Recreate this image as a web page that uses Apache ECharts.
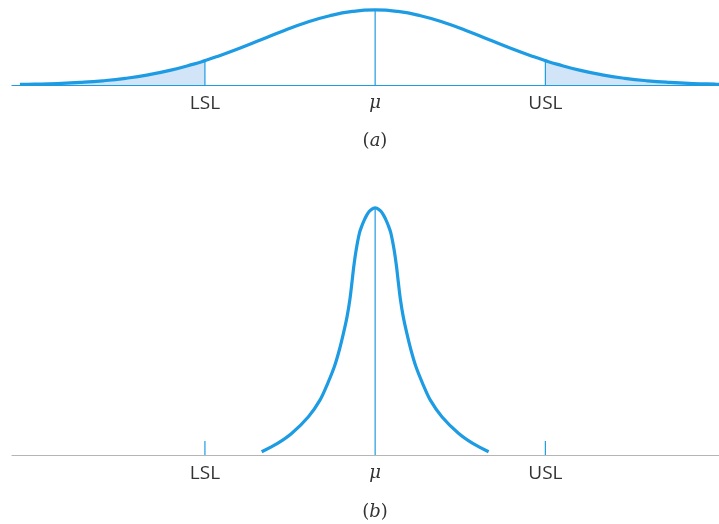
<!DOCTYPE html>
<html>
<head>
<meta charset="utf-8">
<style>html,body{margin:0;padding:0;background:#fff}#c{width:719px;height:524px}</style>
<script src="https://cdn.jsdelivr.net/npm/echarts@6/dist/echarts.min.js"></script>
</head>
<body>
<div id="c"></div>
<script>
// Spec limits and mean (in units of the top curve's sigma)
const tickPositions = [-1.5, 0, 1.5];
const tickLabels = ['LSL', 'μ', 'USL'];
const captions = ['a', 'b'];

// Panel (a): wide process distribution
const topX = [-3.13,-3.0,-2.8,-2.6,-2.4,-2.2,-2.0,-1.8,-1.6,-1.5,-1.4,-1.2,-1.0,-0.8,-0.6,-0.4,-0.2,0,
              0.2,0.4,0.6,0.8,1.0,1.2,1.4,1.5,1.6,1.8,2.0,2.2,2.4,2.6,2.8,3.0,3.03];
const topY = [0.003,0.0044,0.0079,0.0136,0.0224,0.0355,0.054,0.079,0.111,0.1295,0.1497,0.1942,0.242,0.2897,0.3332,0.3683,0.391,0.3989,
              0.391,0.3683,0.3332,0.2897,0.242,0.1942,0.1497,0.1295,0.111,0.079,0.054,0.0355,0.0224,0.0136,0.0079,0.0044,0.004];

// Panel (b): narrow process distribution (relative height)
const botX = [-1.0,-0.86,-0.734,-0.588,-0.485,-0.417,-0.359,-0.315,-0.279,-0.247,-0.223,-0.205,-0.188,-0.167,-0.138,-0.115,-0.094,-0.075,-0.06,-0.045,-0.029,-0.015,0,
              0.015,0.029,0.045,0.06,0.075,0.094,0.115,0.138,0.167,0.188,0.205,0.223,0.247,0.279,0.315,0.359,0.417,0.485,0.588,0.734,0.86,1.0];
const botY = [0.013,0.047,0.088,0.155,0.223,0.291,0.358,0.426,0.493,0.561,0.628,0.696,0.764,0.831,0.899,0.93,0.953,0.970,0.981,0.989,0.995,0.999,1,
              0.999,0.995,0.989,0.981,0.970,0.953,0.93,0.899,0.831,0.764,0.696,0.628,0.561,0.493,0.426,0.358,0.291,0.223,0.155,0.088,0.047,0.013];

const BLUE = '#1d9be3';
const FILL = '#d2e5f8';
const TXT = '#333333';

const topData = topX.map((x, i) => [x, topY[i]]);
const botData = botX.map((x, i) => [x, botY[i]]);
const leftTail = topData.filter(d => d[0] <= tickPositions[0] + 1e-9);
const rightTail = topData.filter(d => d[0] >= tickPositions[2] - 1e-9);
const valAt = x => { const i = topX.indexOf(x); return topY[i]; };

function xAxisCfg(idx, lineColor) {
  return {
    type: 'value', gridIndex: idx, min: -3.2, max: 3.03,
    splitLine: { show: false },
    axisTick: { show: false },
    axisLine: { show: true, lineStyle: { color: lineColor, width: 1.2 } },
    axisLabel: {
      customValues: tickPositions,
      margin: 9,
      formatter: v => {
        const i = tickPositions.findIndex(p => Math.abs(p - v) < 1e-6);
        const t = i >= 0 ? tickLabels[i] : '';
        return i === 1 ? '{m|' + t + '}' : '{s|' + t + '}';
      },
      rich: {
        s: { fontFamily: 'Open Sans', fontSize: 19, color: TXT },
        m: { fontFamily: 'DejaVu Serif', fontStyle: 'italic', fontSize: 18, color: TXT }
      }
    }
  };
}
function yAxisCfg(idx, max) {
  return { type: 'value', gridIndex: idx, min: 0, max: max, show: false, splitLine: { show: false } };
}
function vSeries(grid, x, y1) {
  return { type: 'line', xAxisIndex: grid, yAxisIndex: grid, data: [[x, 0], [x, y1]], showSymbol: false,
    silent: true, itemStyle: { color: BLUE }, lineStyle: { color: BLUE, width: 1.2 }, z: 2 };
}

const option = {
  animation: false,
  backgroundColor: '#fff',
  grid: [
    { left: 12, right: 0, top: 6, height: 79 },
    { left: 12, right: 0, top: 203, height: 252 }
  ],
  xAxis: [xAxisCfg(0, BLUE), xAxisCfg(1, '#b5b5b5')],
  yAxis: [yAxisCfg(0, 0.42), yAxisCfg(1, 1.02)],
  series: [
    { type: 'line', xAxisIndex: 0, yAxisIndex: 0, data: leftTail, showSymbol: false, smooth: true,
      lineStyle: { width: 0 }, areaStyle: { color: FILL, opacity: 1 }, z: 1 },
    { type: 'line', xAxisIndex: 0, yAxisIndex: 0, data: rightTail, showSymbol: false, smooth: true,
      lineStyle: { width: 0 }, areaStyle: { color: FILL, opacity: 1 }, z: 1 },
    ...tickPositions.map(p => vSeries(0, p, valAt(p))),
    { type: 'line', xAxisIndex: 0, yAxisIndex: 0, data: topData, showSymbol: false, smooth: true,
      clip: false, itemStyle: { color: BLUE }, lineStyle: { color: BLUE, width: 3.2 }, z: 3 },
    vSeries(1, tickPositions[0], 0.057),
    vSeries(1, tickPositions[1], 1),
    vSeries(1, tickPositions[2], 0.057),
    { type: 'line', xAxisIndex: 1, yAxisIndex: 1, data: botData, showSymbol: false, smooth: 0.3,
      clip: false, itemStyle: { color: BLUE }, lineStyle: { color: BLUE, width: 3.2 }, z: 3 }
  ],
  graphic: [
    { type: 'text', x: 375, y: 141, style: { text: '{p|(}{i|' + captions[0] + '}{p|)}', align: 'center', verticalAlign: 'middle',
      rich: { p: { fontFamily: 'DejaVu Serif', fontSize: 18, fill: TXT }, i: { fontFamily: 'DejaVu Serif', fontStyle: 'italic', fontSize: 18, fill: TXT } } } },
    { type: 'text', x: 375, y: 512, style: { text: '{p|(}{i|' + captions[1] + '}{p|)}', align: 'center', verticalAlign: 'middle',
      rich: { p: { fontFamily: 'DejaVu Serif', fontSize: 18, fill: TXT }, i: { fontFamily: 'DejaVu Serif', fontStyle: 'italic', fontSize: 18, fill: TXT } } } }
  ]
};
const chart = echarts.init(document.getElementById('c'), null, { renderer: 'canvas' });
chart.setOption(option);
</script>
</body>
</html>
